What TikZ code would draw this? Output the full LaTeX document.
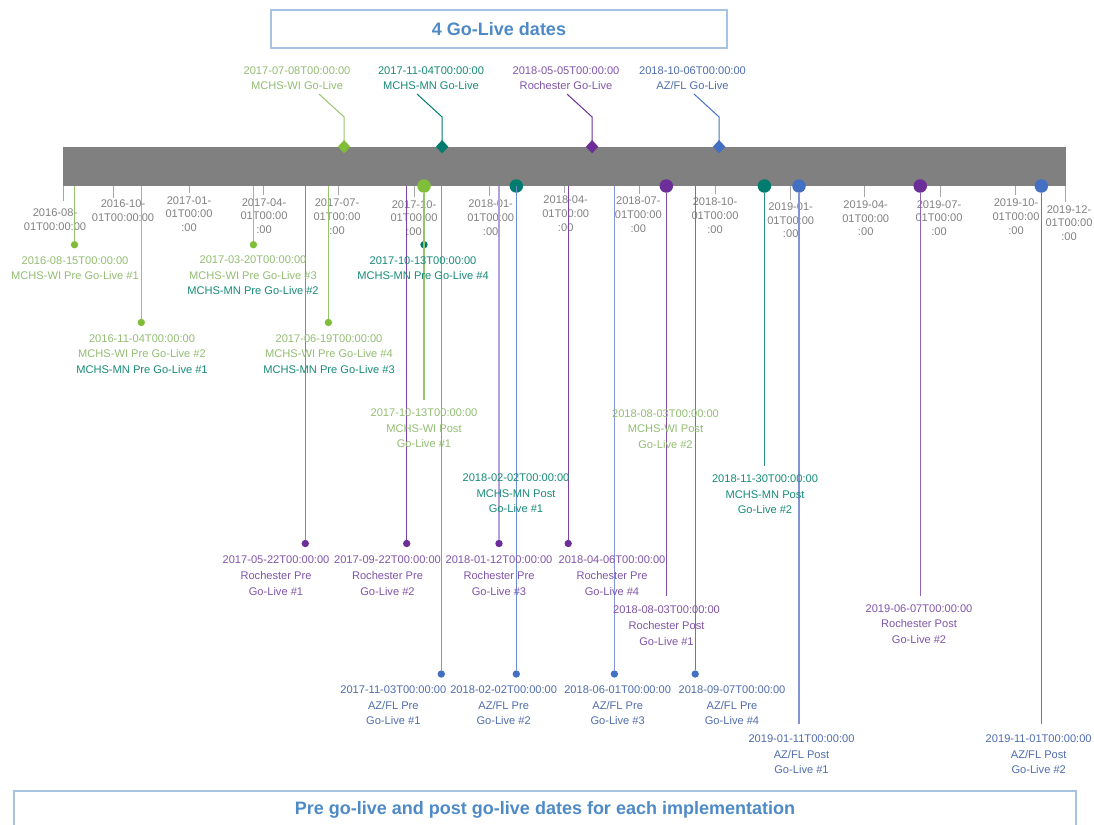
\documentclass[tikz,border=0pt]{standalone}
\usepackage{fontspec}
\setmainfont{Liberation Sans}
\usepackage{xcolor}
\usepackage{tikz}
\usetikzlibrary{positioning,calc,shapes}

\definecolor{wigreen}{RGB}{128,190,58}
\definecolor{witext}{RGB}{146,188,114}
\definecolor{wiline}{RGB}{150,196,110}
\definecolor{mnteal}{RGB}{0,124,110}
\definecolor{mntext}{RGB}{22,138,118}
\definecolor{rochpurple}{RGB}{108,46,152}
\definecolor{rochtext}{RGB}{128,84,168}
\definecolor{rochline}{RGB}{150,118,200}
\definecolor{azblue}{RGB}{68,112,196}
\definecolor{aztext}{RGB}{78,108,172}
\definecolor{azline}{RGB}{130,148,214}
\definecolor{bargray}{RGB}{128,128,128}
\definecolor{ticktext}{RGB}{128,128,128}
\definecolor{titleblue}{RGB}{78,138,198}
\definecolor{boxline}{RGB}{166,196,226}

\tikzset{
  lbl/.style={align=center, inner sep=0pt, font=\fontsize{11.1}{15.6}\selectfont},
  monthlbl/.style={align=center, inner sep=0pt, text=ticktext, font=\fontsize{11.1}{13.8}\selectfont},
  monthtick/.style={draw=gray!70, line width=0.9pt},
  headbox/.style={draw=boxline, line width=1.4pt, text=titleblue, inner sep=0pt,
    font=\fontsize{18}{20}\selectfont\bfseries},
  golive/.style={diamond, inner sep=0pt, minimum width=12.5pt, minimum height=13.5pt},
  predot/.style={circle, inner sep=0pt, minimum size=7.4pt},
  postdot/.style={circle, inner sep=0pt, minimum size=13.5pt},
  stem/.style={line width=1.3pt},
}

\begin{document}
\begin{tikzpicture}[x=1pt,y=-1pt]
\useasboundingbox (0,0) rectangle (1094,824);
\clip (0,0) rectangle (1094,824);

% Heading boxes
\node[headbox, minimum width=456pt, minimum height=38pt] (head) at (499,29) {4 Go-Live dates};
\node[headbox, minimum width=1062pt, minimum height=38pt] (foot) at (545,810) {Pre go-live and post go-live dates for each implementation};

% Timeline bar
\node[fill=bargray, inner sep=0pt, minimum width=1003pt, minimum height=39.5pt, anchor=north west] (bar) at (63,146.5) {};

% Month ticks
\draw[monthtick] (63,186) -- (63,201);
\draw[monthtick] (113.3,186) -- (113.3,198);
\draw[monthtick] (189.1,186) -- (189.1,193);
\draw[monthtick] (263.3,186) -- (263.3,195);
\draw[monthtick] (338.3,186) -- (338.3,195);
\draw[monthtick] (414.1,186) -- (414.1,197);
\draw[monthtick] (489.9,186) -- (489.9,196);
\draw[monthtick] (564.1,186) -- (564.1,193);
\draw[monthtick] (639.1,186) -- (639.1,194);
\draw[monthtick] (715,186) -- (715,194);
\draw[monthtick] (790.8,186) -- (790.8,200);
\draw[monthtick] (864.9,186) -- (864.9,197);
\draw[monthtick] (940,186) -- (940,197);
\draw[monthtick] (1015.8,186) -- (1015.8,195);
\draw[monthtick] (1065.6,186) -- (1065.6,202);

% Month labels
\node[monthlbl] (m1) at (55,220) {2016-08-\\01T00:00:00};
\node[monthlbl] (m2) at (123,210.5) {2016-10-\\01T00:00:00};
\node[monthlbl] (m3) at (189,214) {2017-01-\\01T00:00\\:00};
\node[monthlbl] (m4) at (264,216) {2017-04-\\01T00:00\\:00};
\node[monthlbl] (m5) at (337,216.5) {2017-07-\\01T00:00\\:00};
\node[monthlbl] (m6) at (414,218) {2017-10-\\01T00:00\\:00};
\node[monthlbl] (m7) at (490.7,217.5) {2018-01-\\01T00:00\\:00};
\node[monthlbl] (m8) at (565.7,213.5) {2018-04-\\01T00:00\\:00};
\node[monthlbl] (m9) at (638.3,214.5) {2018-07-\\01T00:00\\:00};
\node[monthlbl] (m10) at (715,215.5) {2018-10-\\01T00:00\\:00};
\node[monthlbl] (m11) at (790.7,220.3) {2019-01-\\01T00:00\\:00};
\node[monthlbl] (m12) at (865.7,218.2) {2019-04-\\01T00:00\\:00};
\node[monthlbl] (m13) at (939,218) {2019-07-\\01T00:00\\:00};
\node[monthlbl] (m14) at (1016,216.7) {2019-10-\\01T00:00\\:00};
\node[monthlbl] (m15) at (1069,223) {2019-12-\\01T00:00\\:00};

% Go-live diamonds
\coordinate (wibend) at (344.1,117);
\coordinate (wiend) at (319,94);
\coordinate (mnbend) at (442.1,117);
\coordinate (mnend) at (417,94);
\coordinate (rochbend) at (592.1,117);
\coordinate (rochend) at (567,94);
\coordinate (azbend) at (719.1,117);
\coordinate (azend) at (694,94);
\draw[line width=1pt, wiline] (wiend) -- (wibend) -- (344.1,146.7);
\draw[line width=1pt, mnteal] (mnend) -- (mnbend) -- (442.1,146.7);
\draw[line width=1pt, rochpurple] (rochend) -- (rochbend) -- (592.1,146.7);
\draw[line width=1pt, azblue] (azend) -- (azbend) -- (719.1,146.7);
\node[golive, fill=wigreen] (wigl) at (344.1,146.7) {};
\node[golive, fill=mnteal] (mngl) at (442.1,146.7) {};
\node[golive, fill=rochpurple] (rochgl) at (592.1,146.7) {};
\node[golive, fill=azblue] (azgl) at (719.1,146.7) {};
\node[lbl, text=witext] (wigllbl) at (297,78) {2017-07-08T00:00:00\\MCHS-WI Go-Live};
\node[lbl, text=mntext] (mngllbl) at (431,78) {2017-11-04T00:00:00\\MCHS-MN Go-Live};
\node[lbl, text=rochtext] (rochgllbl) at (566,78) {2018-05-05T00:00:00\\Rochester Go-Live};
\node[lbl, text=aztext] (azgllbl) at (692.5,78) {2018-10-06T00:00:00\\AZ/FL Go-Live};

% Pre go-live dots
\node[predot, fill=wigreen] (wipre1) at (74.5,244.7) {};
\node[predot, fill=wigreen] (wipre2) at (141.3,322.5) {};
\node[predot, fill=wigreen] (wipre3) at (253.4,244.7) {};
\node[predot, fill=wigreen] (wipre4) at (328.4,322.5) {};
\node[predot, fill=mnteal] (mnpre4) at (424,244.7) {};
\node[predot, fill=rochpurple] (rochpre1) at (305.3,543.5) {};
\node[predot, fill=rochpurple] (rochpre2) at (406.7,543.5) {};
\node[predot, fill=rochpurple] (rochpre3) at (499,543.5) {};
\node[predot, fill=rochpurple] (rochpre4) at (568.2,543.5) {};
\node[predot, fill=azblue] (azpre1) at (441.3,674) {};
\node[predot, fill=azblue] (azpre2) at (516.3,674) {};
\node[predot, fill=azblue] (azpre3) at (614.4,674) {};
\node[predot, fill=azblue] (azpre4) at (695.2,674) {};

% Post go-live dots
\node[postdot, fill=wigreen] (wipost1) at (424,186) {};
\node[postdot, fill=mnteal] (mnpost1) at (516.3,186) {};
\node[postdot, fill=rochpurple] (rochpost1) at (666.3,186) {};
\node[postdot, fill=mnteal] (mnpost2) at (764.4,186) {};
\node[postdot, fill=azblue] (azpost1) at (799,186) {};
\node[postdot, fill=rochpurple] (rochpost2) at (920.2,186) {};
\node[postdot, fill=azblue] (azpost2) at (1041.3,186) {};
\coordinate (wipost1end) at (424,400);
\coordinate (mnpost1end) at (516.3,465);
\coordinate (rochpost1end) at (666.3,596);
\coordinate (mnpost2end) at (764.4,465.7);
\coordinate (azpost1end) at (799,724);
\coordinate (rochpost2end) at (920.2,596);
\coordinate (azpost2end) at (1041.3,724);

% Stems
\draw[stem, wiline] (wipre1 |- bar.south) -- (wipre1);
\draw[stem, wiline] (wipre2 |- bar.south) -- (wipre2);
\draw[stem, wiline] (wipre3 |- bar.south) -- (wipre3);
\draw[stem, wiline] (wipre4 |- bar.south) -- (wipre4);
\draw[stem, rochline] (rochpre1 |- bar.south) -- (rochpre1);
\draw[stem, rochpurple!90] (rochpre2 |- bar.south) -- (rochpre2);
\draw[stem, rochline!70] (rochpre3 |- bar.south) -- (rochpre3);
\draw[stem, rochpurple!90] (rochpre4 |- bar.south) -- (rochpre4);
\draw[stem, wiline] (wipost1) -- (wipost1end);
\draw[stem, mnteal] (mnpost1) -- (mnpost1end);
\draw[stem, rochpurple!85] (rochpost1) -- (rochpost1end);
\draw[stem, mnteal!85] (mnpost2) -- (mnpost2end);
\draw[stem, azline] (azpost1) -- (azpost1end);
\draw[stem, rochpurple!75] (rochpost2) -- (rochpost2end);
\draw[stem, azline!80!black] (azpost2) -- (azpost2end);
\draw[stem, azline] (azpre1 |- bar.south) -- (azpre1);
\draw[stem, azblue!80] (azpre2 |- bar.south) -- (azpre2);
\draw[stem, azline] (azpre3 |- bar.south) -- (azpre3);
\draw[stem, azline!80!black] (azpre4 |- bar.south) -- (azpre4);

% MCHS labels
\node[lbl, text=witext] (wipre1lbl) at (75,268) {2016-08-15T00:00:00\\MCHS-WI Pre Go-Live \#1};
\node[lbl, text=witext] (wipre2lbl) at (142,354) {2016-11-04T00:00:00\\MCHS-WI Pre Go-Live \#2\\\textcolor{mntext}{MCHS-MN Pre Go-Live \#1}};
\node[lbl, text=witext] (wipre3lbl) at (253,275.5) {2017-03-20T00:00:00\\MCHS-WI Pre Go-Live \#3\\\textcolor{mntext}{MCHS-MN Pre Go-Live \#2}};
\node[lbl, text=witext] (wipre4lbl) at (329,354) {2017-06-19T00:00:00\\MCHS-WI Pre Go-Live \#4\\\textcolor{mntext}{MCHS-MN Pre Go-Live \#3}};
\node[lbl, text=mntext] (mnpre4lbl) at (423,268) {2017-10-13T00:00:00\\MCHS-MN Pre Go-Live \#4};
\node[lbl, text=witext] (wipost1lbl) at (424,428.3) {2017-10-13T00:00:00\\MCHS-WI Post\\Go-Live \#1};
\node[lbl, text=witext] (wipost2lbl) at (665.5,429) {2018-08-03T00:00:00\\MCHS-WI Post\\Go-Live \#2};
\node[lbl, text=mntext] (mnpost1lbl) at (516,493.3) {2018-02-02T00:00:00\\MCHS-MN Post\\Go-Live \#1};
\node[lbl, text=mntext] (mnpost2lbl) at (765,494.3) {2018-11-30T00:00:00\\MCHS-MN Post\\Go-Live \#2};

% Rochester labels
\node[lbl, text=rochtext] (rochpre1lbl) at (276,575.7) {2017-05-22T00:00:00\\Rochester Pre\\Go-Live \#1};
\node[lbl, text=rochtext] (rochpre2lbl) at (387.5,575.7) {2017-09-22T00:00:00\\Rochester Pre\\Go-Live \#2};
\node[lbl, text=rochtext] (rochpre3lbl) at (499,575.7) {2018-01-12T00:00:00\\Rochester Pre\\Go-Live \#3};
\node[lbl, text=rochtext] (rochpre4lbl) at (612,575.7) {2018-04-06T00:00:00\\Rochester Pre\\Go-Live \#4};
\node[lbl, text=rochtext] (rochpost1lbl) at (666.5,625.7) {2018-08-03T00:00:00\\Rochester Post\\Go-Live \#1};
\node[lbl, text=rochtext] (rochpost2lbl) at (919,624) {2019-06-07T00:00:00\\Rochester Post\\Go-Live \#2};

% AZ/FL labels
\node[lbl, text=aztext] (azpre1lbl) at (393.3,705.3) {2017-11-03T00:00:00\\AZ/FL Pre\\Go-Live \#1};
\node[lbl, text=aztext] (azpre2lbl) at (503.7,705.3) {2018-02-02T00:00:00\\AZ/FL Pre\\Go-Live \#2};
\node[lbl, text=aztext] (azpre3lbl) at (617.7,705.3) {2018-06-01T00:00:00\\AZ/FL Pre\\Go-Live \#3};
\node[lbl, text=aztext] (azpre4lbl) at (732,705.3) {2018-09-07T00:00:00\\AZ/FL Pre\\Go-Live \#4};
\node[lbl, text=aztext] (azpost1lbl) at (801.5,754.3) {2019-01-11T00:00:00\\AZ/FL Post\\Go-Live \#1};
\node[lbl, text=aztext] (azpost2lbl) at (1038.7,754.3) {2019-11-01T00:00:00\\AZ/FL Post\\Go-Live \#2};
\end{tikzpicture}
\end{document}
